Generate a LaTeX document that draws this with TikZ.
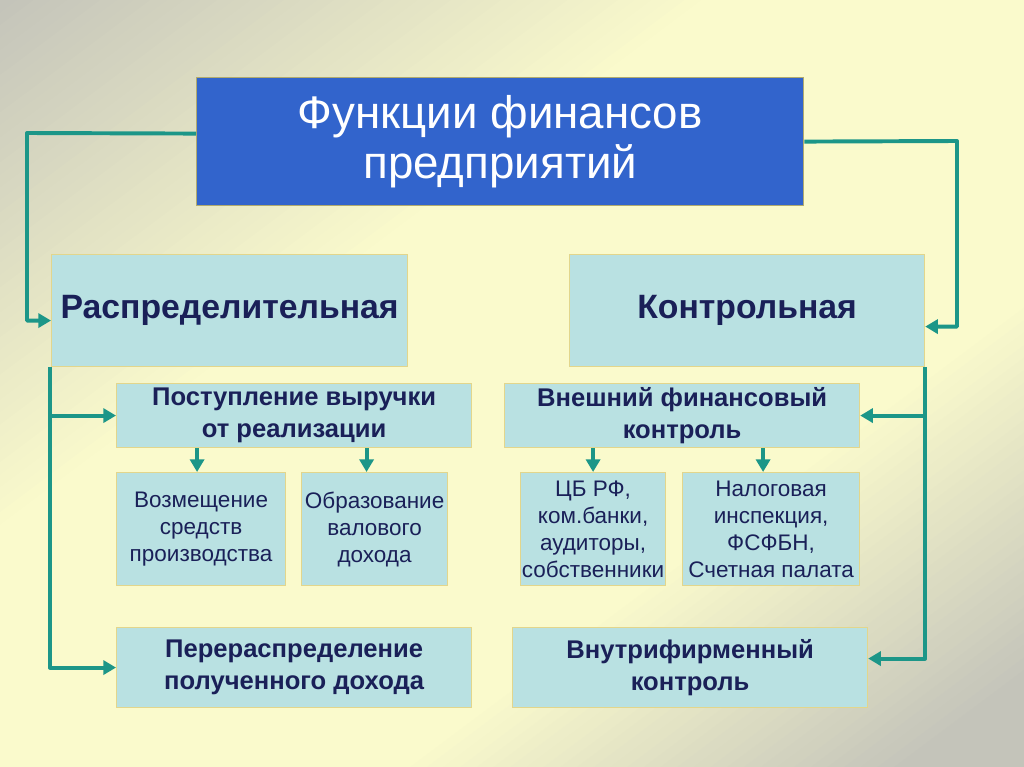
\documentclass[tikz,border=0pt]{standalone}
\usepackage{fontspec}
\setmainfont{Liberation Sans}
\usetikzlibrary{arrows.meta}

\definecolor{bggray}{RGB}{196,196,186}
\definecolor{bgyellow}{RGB}{250,250,204}
\definecolor{titlefill}{RGB}{50,100,204}
\definecolor{titleedge}{RGB}{176,170,110}
\definecolor{boxfill}{RGB}{185,225,226}
\definecolor{boxedge}{RGB}{226,214,140}
\definecolor{navy}{RGB}{26,32,88}
\definecolor{teal}{RGB}{28,150,136}

\newcommand{\titlesize}{\fontsize{32.5}{36}\selectfont}
\newcommand{\headsize}{\fontsize{24}{28}\selectfont\bfseries}
\newcommand{\subsize}{\fontsize{18.2}{22.5}\selectfont\bfseries}
\newcommand{\smallsize}{\fontsize{16}{19.2}\selectfont}

\tikzset{
  box/.style={draw=boxedge, fill=boxfill, line width=0.8pt, anchor=north west,
    inner sep=0pt, align=center, text=navy},
  headbox/.style={box, minimum height=2.8cm, font=\headsize},
  subbox/.style={box, font=\subsize},
  leafbox/.style={box, minimum height=2.825cm, font=\smallsize},
  conn/.style={draw=teal, line width=2.8pt, line join=round,
    -{Triangle[length=9pt, width=10pt]}},
}

\begin{document}
\begin{tikzpicture}[x=0.025cm, y=-0.025cm]
  \useasboundingbox (0,0) rectangle (1024,767);

  %% --- background: gray corners, yellow diagonal ---
  \begin{scope}
    \clip (0,0) rectangle (1024,767);
    \begin{scope}[rotate=-53.2]
      \foreach \s in {0,10,...,1240} {
        \pgfmathsetmacro\m{min(100, max(0, min(\s/4.2, (1150-\s)/3)))}
        \fill[bgyellow!\m!bggray] (\s,-1400) rectangle (\s+11,1400);
      }
    \end{scope}
  \end{scope}

  %% --- title ---
  \node[box, draw=titleedge, fill=titlefill, text=white, font=\titlesize,
    minimum width=15.175cm, minimum height=3.2cm] (title) at (196,77)
    {Функции финансов\\предприятий};

  %% --- two functions ---
  \node[headbox, minimum width=8.9cm] (raspr) at (51,254) {Распределительная};
  \node[headbox, minimum width=8.875cm] (kontr) at (569,254) {Контрольная};

  %% left branch
  \node[subbox, minimum width=8.875cm, minimum height=1.6cm] (postup) at (116,383)
    {Поступление выручки\\от реализации};
  \node[leafbox, minimum width=4.225cm] (vozm) at (116,472)
    {Возмещение\\средств\\производства};
  \node[leafbox, minimum width=3.65cm] (obraz) at (301,472)
    {Образование\\валового\\дохода};
  \node[subbox, minimum width=8.875cm, minimum height=2.0cm] (perer) at (116,627)
    {Перераспределение\\полученного дохода};

  %% right branch
  \node[subbox, minimum width=8.875cm, minimum height=1.6cm] (vnesh) at (504,383)
    {Внешний финансовый\\контроль};
  \node[leafbox, minimum width=3.625cm] (cbrf) at (520,472)
    {ЦБ РФ,\\ком.банки,\\аудиторы,\\собственники};
  \node[leafbox, minimum width=4.425cm] (nalog) at (682,472)
    {Налоговая\\инспекция,\\ФСФБН,\\Счетная палата};
  \node[subbox, minimum width=8.875cm, minimum height=2.0cm] (vnutr) at (512,627)
    {Внутрифирменный\\контроль};

  %% --- connectors ---
  \coordinate (lturn) at (27,133);
  \coordinate (rturn) at (957,141);
  \draw[conn] ([yshift=0.2cm]title.west) -- (lturn) |- ([yshift=-0.25cm]raspr.west);
  \draw[conn] (title.east) -- (rturn) |- ([yshift=-0.4cm]kontr.east);

  \coordinate (lrail) at ([xshift=-0.025cm]raspr.south west);
  \draw[conn] (lrail) |- (perer.west);
  \draw[conn] (lrail |- postup.west) -- (postup.west);

  \coordinate (rrail) at (kontr.south east);
  \draw[conn] (rrail) |- ([yshift=0.225cm]vnutr.east);
  \draw[conn] (rrail |- vnesh.east) -- (vnesh.east);

  %% small down arrows
  \draw[conn] ([xshift=-0.1cm]vozm.north |- postup.south) -- ([xshift=-0.1cm]vozm.north);
  \draw[conn] ([xshift=-0.2cm]obraz.north |- postup.south) -- ([xshift=-0.2cm]obraz.north);
  \draw[conn] (cbrf.north |- vnesh.south) -- (cbrf.north);
  \draw[conn] ([xshift=-0.2cm]nalog.north |- vnesh.south) -- ([xshift=-0.2cm]nalog.north);
\end{tikzpicture}
\end{document}
